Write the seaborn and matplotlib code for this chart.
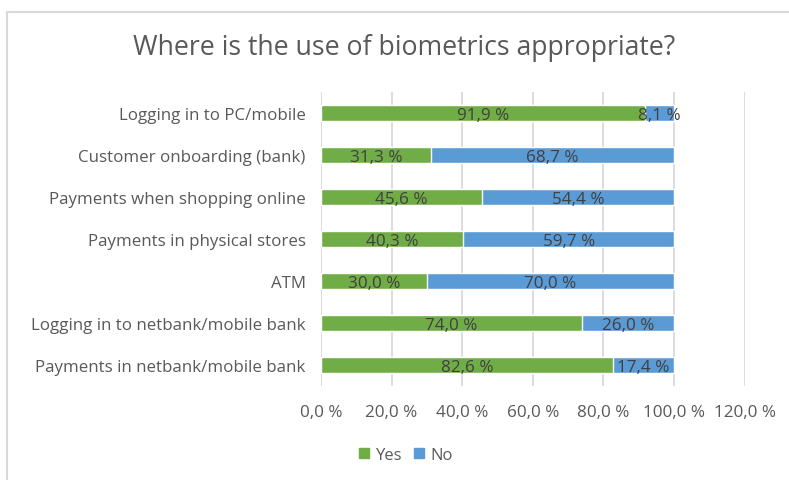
import matplotlib
matplotlib.use("Agg")
import matplotlib.pyplot as plt
import matplotlib.patches as mpatches
import seaborn as sns
import pandas as pd

categories = [
    "Logging in to PC/mobile",
    "Customer onboarding (bank)",
    "Payments when shopping online",
    "Payments in physical stores",
    "ATM",
    "Logging in to netbank/mobile bank",
    "Payments in netbank/mobile bank",
]
yes_pct = [91.9, 31.3, 45.6, 40.3, 30.0, 74.0, 82.6]
no_pct = [8.1, 68.7, 54.4, 59.7, 70.0, 26.0, 17.4]
x_ticks = [0, 20, 40, 60, 80, 100, 120]

GREEN = "#70AD47"
BLUE = "#5B9BD5"
LABEL_GREY = "#595959"
VALUE_GREY = "#404040"

sns.set_theme(style="white")
plt.rcParams["font.family"] = ["Open Sans", "DejaVu Sans"]

df = pd.DataFrame({"category": categories, "yes": yes_pct, "no": no_pct})
df["total"] = df["yes"] + df["no"]

fig = plt.figure(figsize=(7.89, 4.81), dpi=100)
W, H = 789, 481
ax = fig.add_axes([321 / W, 1 - 387 / H, (744.6 - 321) / W, (387 - 93) / H])

# stacked horizontal bars: full stack in blue, "Yes" share in green over it
sns.barplot(data=df, y="category", x="total", color=BLUE, orient="h",
            width=0.4, ax=ax, saturation=1, zorder=2)
sns.barplot(data=df, y="category", x="yes", color=GREEN, orient="h",
            width=0.4, ax=ax, saturation=1, zorder=3)

def fmt(v):
    return f"{v:.1f}".replace(".", ",") + " %"

for i, (y, n) in enumerate(zip(yes_pct, no_pct)):
    ax.text(y / 2, i + 0.04, fmt(y), ha="center", va="center", fontsize=12.3,
            color=VALUE_GREY, zorder=5)
    ax.text(y + n / 2, i + 0.04, fmt(n), ha="center", va="center", fontsize=12.3,
            color=VALUE_GREY, zorder=5)

ax.set_xlim(0, 120)
ax.set_ylim(6.5, -0.5)
ax.set_xticks(x_ticks)
ax.set_xticklabels([fmt(t) for t in x_ticks], fontsize=12.3, color=LABEL_GREY)
ax.tick_params(axis="y", labelsize=12.2, labelcolor=LABEL_GREY, length=0, pad=11)
ax.tick_params(axis="x", length=0, pad=13)
ax.set_xlabel("")
ax.set_ylabel("")
ax.xaxis.grid(True, color="#D9D9D9", linewidth=1.3, zorder=0)
ax.set_axisbelow(True)
for s in ax.spines.values():
    s.set_visible(False)

fig.text(404 / W, 1 - 48 / H, "Where is the use of biometrics appropriate?",
         ha="center", va="center", fontsize=19.2, color=LABEL_GREY)

handles = [mpatches.Patch(color=GREEN, label="Yes"),
           mpatches.Patch(color=BLUE, label="No")]
fig.legend(handles=handles, loc="center", bbox_to_anchor=(406 / W, 1 - 456 / H),
           ncol=2, frameon=False, fontsize=12, handlelength=0.6,
           handleheight=0.6, handletextpad=0.4, columnspacing=0.7,
           labelcolor=LABEL_GREY)

# outer chart frame
fig.patches.append(mpatches.Rectangle((6.5 / W, -0.01), 1.0, 1 - 12.5 / H + 0.01,
                                      transform=fig.transFigure, fill=False,
                                      edgecolor="#D9D9D9", linewidth=1.5))

fig.savefig("out.png", dpi=100)
